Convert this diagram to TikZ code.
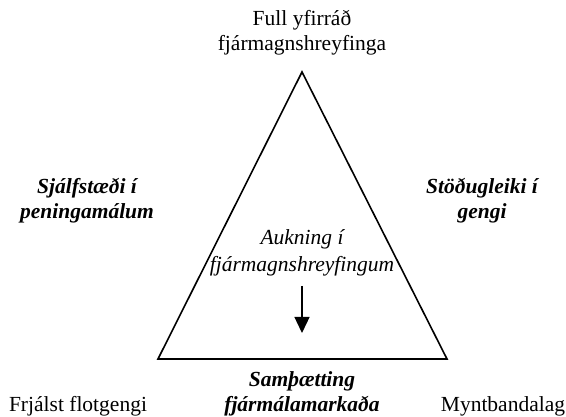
\documentclass[tikz,border=0pt]{standalone}
\usepackage{fontspec}
\setmainfont{Liberation Serif}
\usetikzlibrary{arrows.meta}

\begin{document}
\begin{tikzpicture}[x=1pt,y=-1pt,
    lbl/.style={align=center, inner sep=0pt, font=\fontsize{21.5}{25}\selectfont},
    goal/.style={lbl, font=\fontsize{21.5}{25}\selectfont\bfseries\itshape},
    flow/.style={lbl, font=\fontsize{21.5}{27}\selectfont\itshape}]
  \useasboundingbox (0,0) rectangle (566,417);

  \coordinate (0) at (302,72);
  \coordinate (1) at (158,359);
  \coordinate (2) at (447,359);

  \draw[line width=1.6pt, line join=miter] (0) -- (1) -- (2) -- cycle;

  \node[lbl]  (3) at (302,33) {Full yfirráð\\fjármagnshreyfinga};
  \node[goal] (4) at (87,201) {Sjálfstæði í\\peningamálum};
  \node[goal] (5) at (482,201) {Stöðugleiki í\\gengi};
  \node[flow] (6) at (302,253) {Aukning í\\fjármagnshreyfingum};
  \node[goal] (7) at (302,394) {Samþætting\\fjármálamarkaða};
  \node[lbl]  (8) at (78,406) {Frjálst flotgengi};
  \node[lbl]  (9) at (503,406) {Myntbandalag};

  \coordinate (10) at (302,286);
  \coordinate (11) at (302,333);
  \draw[line width=1.3pt, -{Triangle[length=16pt,width=15pt]}] (10) -- (11);
\end{tikzpicture}
\end{document}
